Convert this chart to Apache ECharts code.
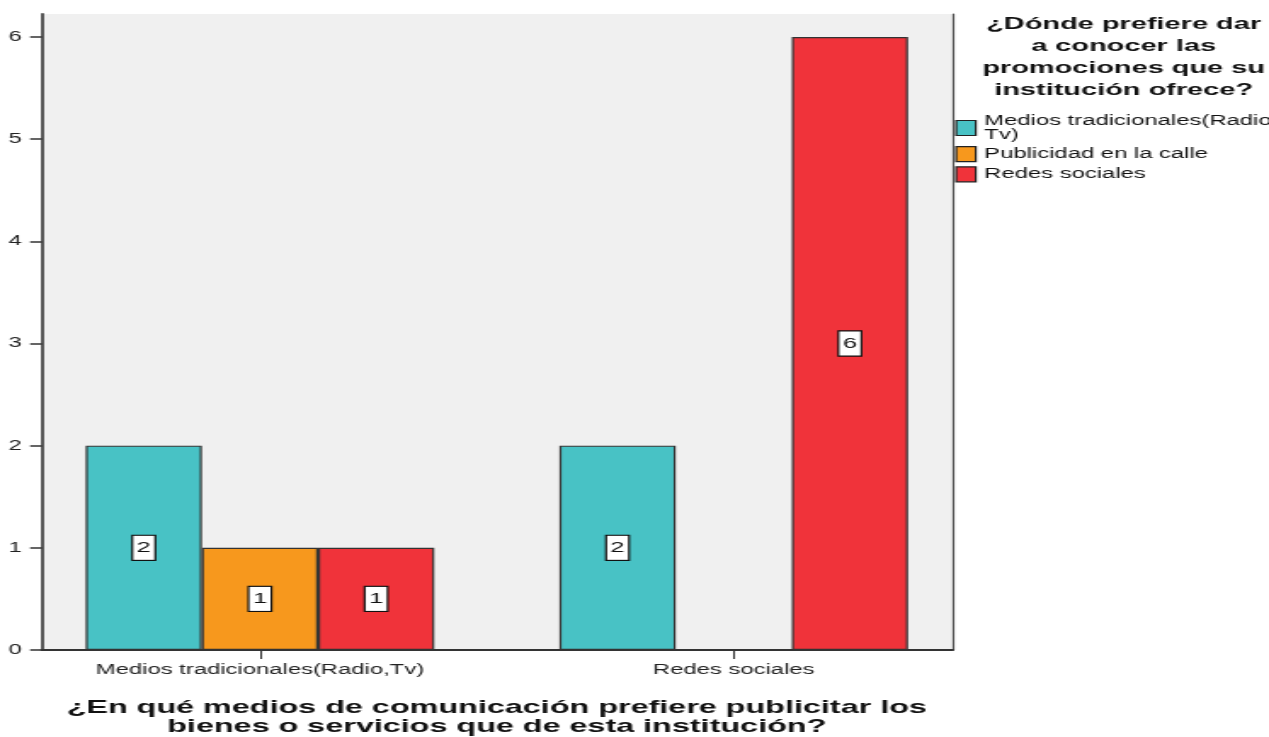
<!DOCTYPE html>
<html>
<head>
<meta charset="utf-8">
<script src="https://cdn.jsdelivr.net/npm/echarts@6/dist/echarts.min.js"></script>
<style>
  html, body { margin: 0; padding: 0; background: #fff; overflow: hidden; }
  /* la imagen original esta estirada en horizontal: se dibuja estrecha y se escala */
  #chart { width: 746px; height: 737px; transform: scaleX(1.7011); transform-origin: 0 0; }
</style>
</head>
<body>
<div id="chart"></div>
<script>
// categorias del eje X (posicion 0 y 1)
var categorias = ['Medios tradicionales(Radio,Tv)', 'Redes sociales'];
var series_nombres = ['Medios tradicionales(Radio,Tv)', 'Publicidad en la calle', 'Redes sociales'];
var colores = ['#48C2C5', '#F7981D', '#F0333A'];
// recuentos por categoria
var medios = [2, 2];
var publicidad = [1, null];
var redes = [1, 6];
var ticksY = [0, 1, 2, 3, 4, 5, 6];

var fuente = "'Liberation Sans', Arial, sans-serif";

function pares(arr){
	var res = [];
	for (var i = 0; i < arr.length; i++) {
		res.push([i, arr[i]]);
	}
	return res;
}

function serie(nombre, datos, color){
	return {
		name: nombre,
		type: 'bar',
		barWidth: 68.3,
		barGap: '0%',
		data: pares(datos),
		itemStyle: {
			color: color,
			borderColor: '#333',
			borderWidth: 1.2
		},
		label: {
			show: true,
			position: 'inside',
			formatter: function(p){ return p.value[1]; },
			color: '#111',
			fontFamily: fuente,
			fontSize: 15,
			backgroundColor: '#fff',
			borderColor: '#111',
			borderWidth: 1.2,
			padding: [5, 2, 4, 2]
		}
	};
}

var myChart = echarts.init(document.getElementById('chart'));

var option = {
	animation: false,
	backgroundColor: '#fff',
	title: [{
		text: '¿En qué medios de comunicación prefiere publicitar los\nbienes o servicios que de esta institución?',
		left: 287,
		top: 693,
		textAlign: 'center',
		textStyle: {
			fontFamily: fuente,
			fontSize: 19,
			fontWeight: 'bold',
			color: '#111',
			lineHeight: 19
		}
	}, {
		text: '¿Dónde prefiere dar\na conocer las\npromociones que su\ninstitución ofrece?',
		left: 655.5,
		top: 8,
		textAlign: 'center',
		textStyle: {
			fontFamily: fuente,
			fontSize: 17,
			fontWeight: 'bold',
			color: '#111',
			lineHeight: 22
		}
	}],
	legend: {
		orient: 'vertical',
		left: 556.5,
		top: 109,
		itemWidth: 11.5,
		itemHeight: 15,
		itemGap: 4,
		icon: 'rect',
		data: series_nombres,
		formatter: function(n){ return n.replace(',', ',\n'); },
		itemStyle: { borderColor: '#222', borderWidth: 1.2 },
		textStyle: {
			fontFamily: fuente,
			fontSize: 14,
			color: '#111',
			lineHeight: 14
		}
	},
	grid: {
		left: 24.7,
		right: 186,
		top: 14,
		bottom: 87,
		show: true,
		backgroundColor: '#F0F0F0',
		borderWidth: 0
	},
	xAxis: {
		type: 'value',
		min: -0.46,
		max: 1.462,
		splitLine: { show: false },
		axisLine: { show: true, onZero: false, lineStyle: { color: '#333', width: 2 } },
		axisTick: { show: true, length: 9, customValues: [0, 1], lineStyle: { color: '#333', width: 1 } },
		axisLabel: {
			customValues: [0, 1],
			formatter: function(v){ return categorias[Math.round(v)]; },
			fontFamily: fuente,
			fontSize: 14,
			color: '#222',
			margin: 13
		}
	},
	yAxis: [{
		type: 'value',
		min: 0,
		max: 6.225,
		interval: 1,
		splitLine: { show: false },
		axisLine: { show: true, onZero: false, lineStyle: { color: '#444', width: 1.8 } },
		axisTick: { show: true, length: 7, customValues: ticksY, lineStyle: { color: '#333', width: 1.5 } },
		axisLabel: {
			customValues: ticksY,
			fontFamily: fuente,
			fontSize: 14,
			color: '#222',
			margin: 12
		}
	}, {
		type: 'value',
		position: 'right',
		min: 0,
		max: 6.225,
		splitLine: { show: false },
		axisLine: { show: true, onZero: false, lineStyle: { color: '#555', width: 1.2 } },
		axisTick: { show: false },
		axisLabel: { show: false }
	}],
	series: [
		serie(series_nombres[0], medios, colores[0]),
		serie(series_nombres[1], publicidad, colores[1]),
		serie(series_nombres[2], redes, colores[2])
	]
};

myChart.setOption(option);
</script>
</body>
</html>
